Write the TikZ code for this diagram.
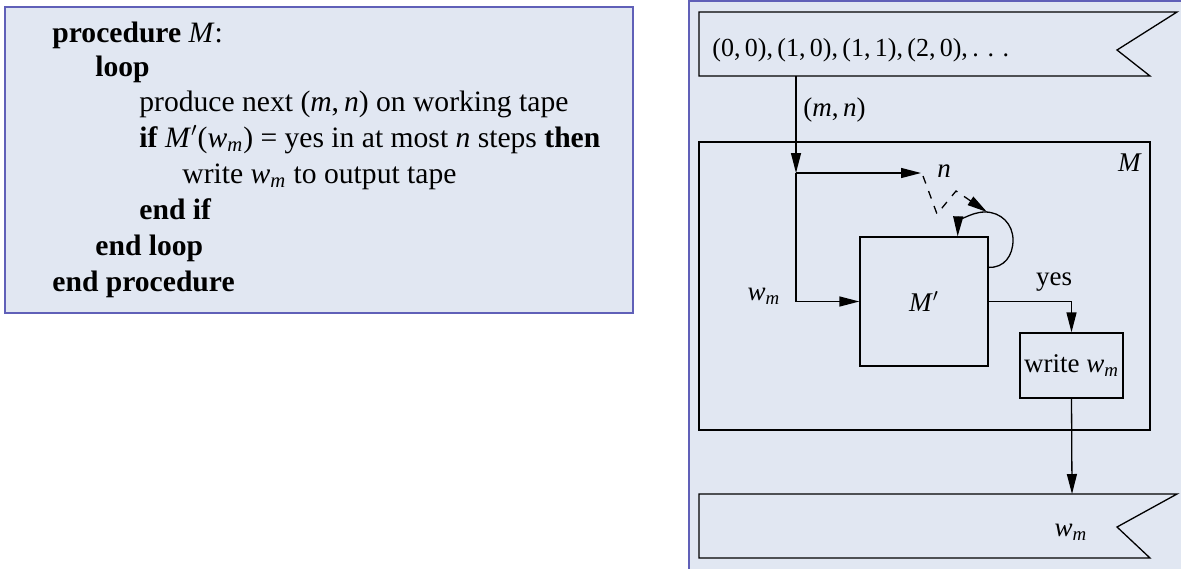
\documentclass[tikz,border=0pt]{standalone}
\usepackage{amsmath}
\usepackage{fontspec}
\setmainfont{Liberation Serif}
\usetikzlibrary{arrows.meta, positioning, calc}
\definecolor{panelfill}{RGB}{225,231,242}
\definecolor{panelline}{RGB}{96,96,184}
\newcommand{\wm}{\textit{w}$_{\textit{m}}$}
\newcommand{\Mprime}{\textit{M}$'$}

\tikzset{
  panel/.style={fill=panelfill, draw=panelline, line width=1.2pt},
  line/.style={line width=0.65pt},
  wire/.style={line width=0.65pt, -{Triangle[length=10pt,width=5pt]}},
  machine/.style={draw, line width=0.65pt, inner sep=0pt},
  codeline/.style={anchor=base west, inner sep=0pt, font=\fontsize{14.8}{17}\selectfont},
}

\begin{document}
\begin{tikzpicture}[x=0.5pt, y=-0.5pt, font=\fontsize{13.5}{16}\selectfont]
  \useasboundingbox (0,0) rectangle (1181,568);

  % left panel: the procedure
  \draw[panel] (5,7) rectangle (633,313);
  \node[codeline] (l1) at (52,42)  {\textbf{procedure} \textit{M}:};
  \node[codeline] (l2) at (95,76)  {\textbf{loop}};
  \node[codeline] (l3) at (139,111) {produce next (\textit{m},\,\textit{n}) on working tape};
  \node[codeline] (l4) at (139,147) {\textbf{if} \Mprime(\wm) = yes in at most \textit{n} steps \textbf{then}};
  \node[codeline] (l5) at (182,183) {write \wm{} to output tape};
  \node[codeline] (l6) at (139,219) {\textbf{end if}};
  \node[codeline] (l7) at (95,255)  {\textbf{end loop}};
  \node[codeline] (l8) at (52,291)  {\textbf{end procedure}};

  % right panel: the machine
  \draw[panel] (689,1) rectangle (1200,590);

  % input tape
  \draw[line] (699,12) -- (1177,12) -- (1117,50) -- (1150,76) -- (699,76) -- cycle;
  \node[anchor=west, inner sep=0pt, font=\fontsize{13}{15}\selectfont] (seq) at (712,50)
       {(0,\,0),\,(1,\,0),\,(1,\,1),\,(2,\,0),\,.\,\,.\,\,.};
  \coordinate (tin) at (796,76);

  % box M
  \draw[line] (699,142) rectangle (1150,430);
  \node (mlabel) at (1130,163) {\textit{M}};

  \node[machine, minimum width=64pt, minimum height=64.5pt] (mp) at (924,301.5) {\Mprime};
  \node[machine, minimum width=51.5pt, minimum height=32.5pt] (write) at (1071.5,365.5) {write \wm};

  \coordinate (split) at (796,173);
  \coordinate (nend) at (921,173);
  \node[anchor=west, inner sep=0pt] (nlabel) at (937,171) {\textit{n}};
  \node[anchor=west, inner sep=0pt] (mn) at (803,110) {(\textit{m},\,\textit{n})};
  \node (wlabel) at (764,296) {\wm};
  \node (yes) at (1054,282) {yes};

  \draw[wire] (tin) -- (split);
  \draw[wire] (split) -- (nend);
  \draw[wire] (split) |- (mp.west);
  \draw[wire] (mp.east) -| (write.north);

  % step loop of M'
  \draw[wire] ($(mp.north east)+(0,31)$)
      .. controls (1004,268) and (1013,256) .. (1013,240)
      .. controls (1013,224) and (1001,212) .. (985,212)
      .. controls (969,212) and (958,224) .. ($(mp.north east)+(-31,0)$);
  \draw[wire, dash pattern=on 4pt off 4pt] (923,176) -- (937,214) -- (956,191) -- (987,212);

  % output tape
  \draw[line] (699,494) -- (1177,494) -- (1117,527) -- (1150,558) -- (699,558) -- cycle;
  \node (out) at (1071,532) {\wm};
  \coordinate (tout) at (1072,494);
  \draw[wire] (write.south) -- (tout);
\end{tikzpicture}
\end{document}
